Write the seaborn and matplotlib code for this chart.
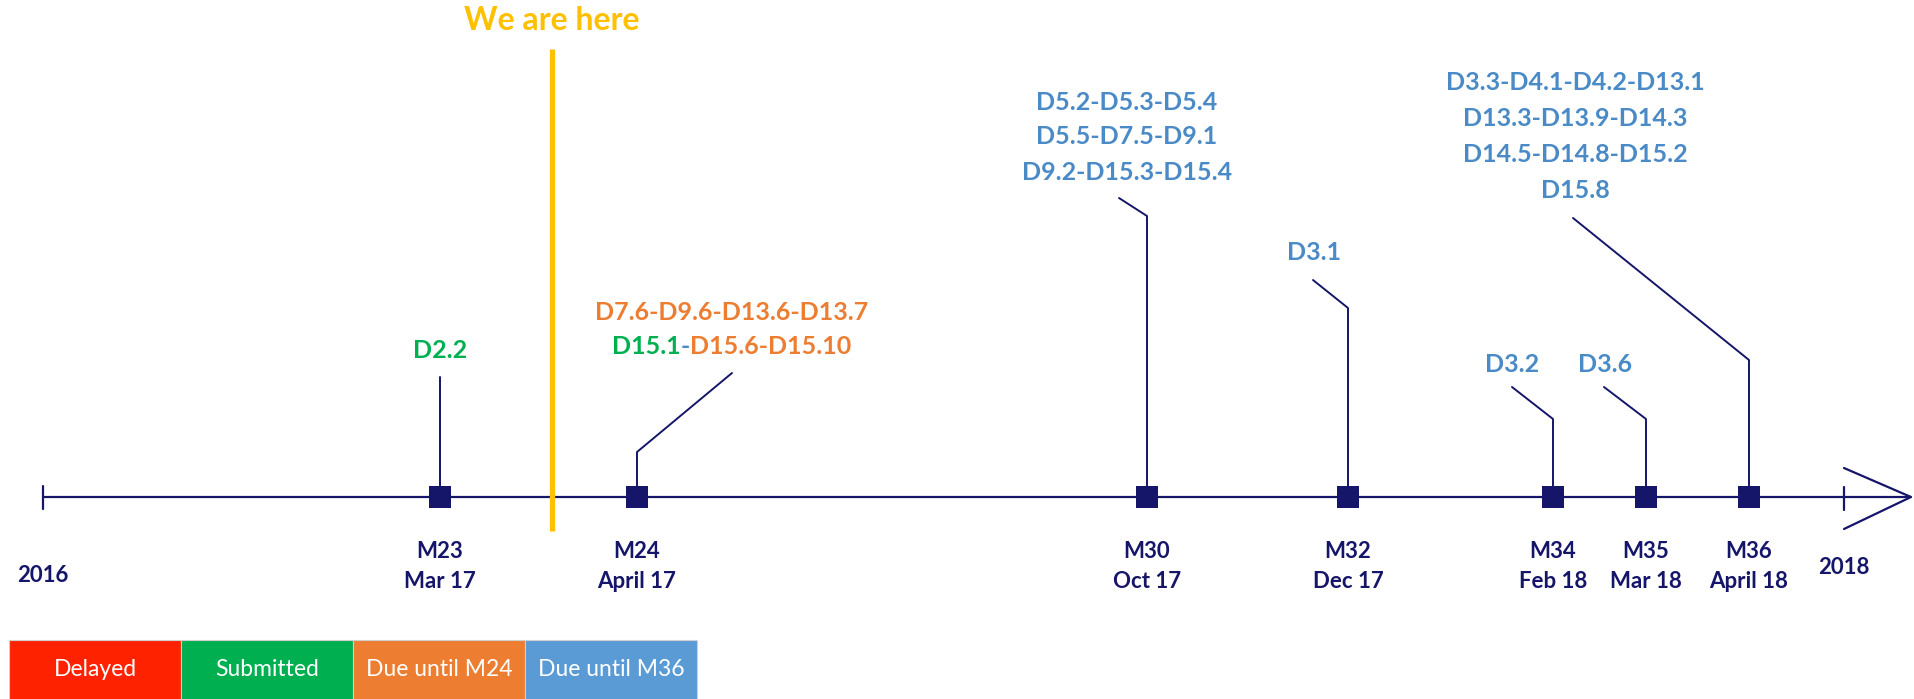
import matplotlib
matplotlib.use("Agg")
import matplotlib.pyplot as plt
from matplotlib.patches import Rectangle
import pandas as pd
import seaborn as sns

# ---- milestones on the project timeline ----
milestones = ["M23", "M24", "M30", "M32", "M34", "M35", "M36"]
due_dates = ["Mar 17", "April 17", "Oct 17", "Dec 17", "Feb 18", "Mar 18", "April 18"]
# schematic position of each milestone along the timeline (2016 -> 2018)
timeline_pos = [440, 637, 1147, 1348, 1553, 1646, 1749]
start_year, end_year = "2016", "2018"

# deliverables per milestone: lines of (text, status) pieces
deliverables = {
    "M23": [[("D2.2", "submitted")]],
    "M24": [[("D7.6-D9.6-D13.6-D13.7", "m24")],
            [("D15.1", "submitted"), ("-", "m36"), ("D15.6-D15.10", "m24")]],
    "M30": [[("D5.2-D5.3-D5.4", "m36")],
            [("D5.5-D7.5-D9.1", "m36")],
            [("D9.2-D15.3-D15.4", "m36")]],
    "M32": [[("D3.1", "m36")]],
    "M34": [[("D3.2", "m36")]],
    "M35": [[("D3.6", "m36")]],
    "M36": [[("D3.3-D4.1-D4.2-D13.1", "m36")],
            [("D13.3-D13.9-D14.3", "m36")],
            [("D14.5-D14.8-D15.2", "m36")],
            [("D15.8", "m36")]],
}

legend_labels = ["Delayed", "Submitted", "Due until M24", "Due until M36"]
legend_keys = ["delayed", "submitted", "m24", "m36"]

# ---- styling ----
NAVY = "#15156A"
YELLOW = "#FFC000"
status_colors = {"delayed": "#FF2200", "submitted": "#00B050",
                 "m24": "#ED7D31", "m36": "#4A8AC6"}
box_colors = {"delayed": "#FF2200", "submitted": "#00B050",
              "m24": "#ED7D31", "m36": "#5B9BD5"}

# callout layout: (knee x, knee y), (end x, end y), (label x, first line y), line gap
callouts = {
    "M23": ((440, 377), (440, 377), (440, 350), 34),
    "M24": ((637, 452), (732, 373), (732, 312), 34),
    "M30": ((1147, 216), (1119, 198), (1127, 102), 35),
    "M32": ((1348, 308), (1313, 280), (1314, 253), 35),
    "M34": ((1553, 419), (1512, 387), (1512, 365), 35),
    "M35": ((1646, 419), (1604, 387), (1605, 365), 35),
    "M36": ((1749, 360), (1573, 218), (1575, 83), 36),
}

W, H = 1915, 699
AXIS_Y = 497

sns.set_theme(style="white")
plt.rcParams["font.family"] = ["Lato", "DejaVu Sans"]

fig = plt.figure(figsize=(W / 100, H / 100), dpi=100)
ax = fig.add_axes([0, 0, 1, 1])

# main time axis with end ticks and open arrow head
x0, x1, tip = 43, 1844, 1911
ax.plot([x0, tip], [AXIS_Y, AXIS_Y], color=NAVY, lw=1.6, zorder=2)
ax.plot([x0, x0], [486, 509], color=NAVY, lw=1.6, zorder=2)
ax.plot([x1, x1], [487, 510], color=NAVY, lw=1.6, zorder=2)
ax.plot([x1, tip, x1], [468, AXIS_Y, 529], color=NAVY, lw=1.6, zorder=2,
        solid_joinstyle="miter")

# "We are here" marker
ax.plot([552, 552], [49, 531], color=YELLOW, lw=3.8, zorder=3, solid_capstyle="butt")
ax.text(552, 21, "We are here", color=YELLOW, fontsize=23, fontweight="bold",
        ha="center", va="center")

# callout leaders
for m, x in zip(milestones, timeline_pos):
    (kx, ky), (ex, ey), _, _ = callouts[m]
    ax.plot([x, kx, ex], [AXIS_Y, ky, ey], color=NAVY, lw=1.4, zorder=1)

# milestone squares
df = pd.DataFrame({"milestone": milestones, "pos": timeline_pos,
                   "y": [AXIS_Y] * len(milestones)})
sns.scatterplot(data=df, x="pos", y="y", marker="s", s=250, color=NAVY,
                linewidth=0, ax=ax, legend=False, zorder=4)
ax.set_xlim(0, W)
ax.set_ylim(H, 0)
ax.axis("off")

# milestone names and dates
lab_kw = dict(color=NAVY, fontsize=16, fontweight="bold", ha="center", va="center")
for m, d, x in zip(milestones, due_dates, timeline_pos):
    ax.text(x, 551, m, **lab_kw)
    ax.text(x, 582, d, **lab_kw)
ax.text(x0, 575, start_year, **lab_kw)
ax.text(x1, 567, end_year, **lab_kw)

# deliverable labels, coloured per status piece
renderer = fig.canvas.get_renderer()
label_kw = dict(fontsize=18, fontweight="bold", va="center", ha="left")


def draw_pieces(cx, y, pieces):
    widths = []
    for s, _ in pieces:
        t = ax.text(0, 0, s, **label_kw)
        widths.append(t.get_window_extent(renderer=renderer).width)
        t.remove()
    x = cx - sum(widths) / 2
    for (s, key), w in zip(pieces, widths):
        ax.text(x, y, s, color=status_colors[key], **label_kw)
        x += w


for m in milestones:
    _, _, (lx, ly), gap = callouts[m]
    for i, line in enumerate(deliverables[m]):
        draw_pieces(lx, ly + i * gap, line)

# status legend boxes
bx, bw, by, bh = 9, 172, 640, 60
for i, (lab, key) in enumerate(zip(legend_labels, legend_keys)):
    ax.add_patch(Rectangle((bx + i * bw, by), bw, bh, facecolor=box_colors[key],
                           edgecolor="#D0D0D0", lw=0.8, zorder=2))
    ax.text(bx + i * bw + bw / 2, 670, lab, color="white", fontsize=16.5,
            ha="center", va="center", zorder=3)

fig.savefig("out.png", dpi=100)
